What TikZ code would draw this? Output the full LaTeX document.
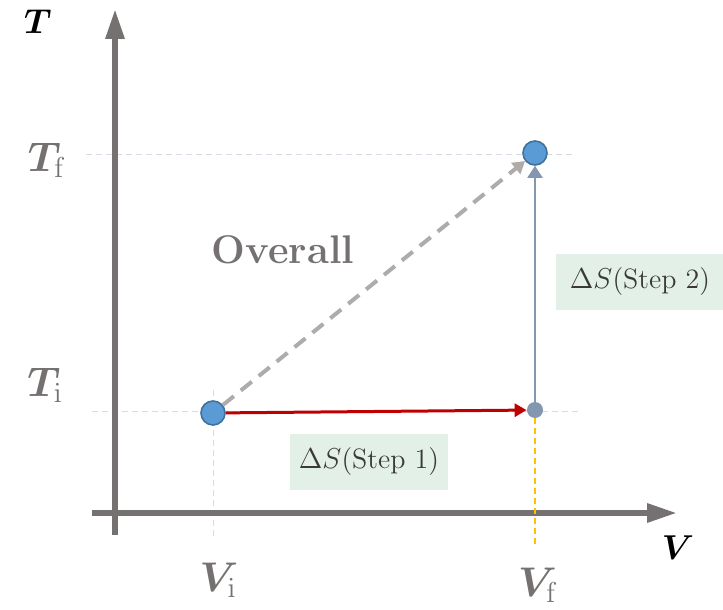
\documentclass[tikz,border=0pt]{standalone}
\usepackage{bm}
\usetikzlibrary{arrows.meta}
\definecolor{axisGray}{HTML}{767171}
\definecolor{pointBlue}{HTML}{5B9BD5}
\definecolor{pointEdge}{HTML}{41719C}
\definecolor{stepBlue}{HTML}{8497B0}
\definecolor{stepRed}{HTML}{C00000}
\definecolor{pathGray}{HTML}{AFABAB}
\definecolor{guideGray}{HTML}{D6DCE5}
\definecolor{guideGold}{HTML}{FFC000}
\definecolor{labelGreen}{HTML}{E2F0E8}
\definecolor{labelText}{HTML}{3B3838}
\tikzset{
    axisline/.style={line width=3pt, draw=axisGray, -{Triangle[length=15pt, width=9pt]}},
    guide/.style={draw=guideGray, line width=0.5pt, dash pattern=on 3pt off 2pt},
    guidegold/.style={draw=guideGold, line width=0.8pt, dash pattern=on 3pt off 2pt},
    state/.style={circle, draw=pointEdge, fill=pointBlue, line width=0.8pt, minimum size=12pt, inner sep=0pt},
    corner/.style={circle, fill=stepBlue, minimum size=8pt, inner sep=0pt},
    steponearrow/.style={-{Triangle[length=6pt, width=6.5pt]}, line width=1.5pt, draw=stepRed},
    steptwoarrow/.style={-{Triangle[length=6pt, width=7.5pt]}, line width=1pt, draw=stepBlue},
    overallarrow/.style={-{Triangle[length=6pt, width=7pt]}, line width=2pt, draw=pathGray, dash pattern=on 7pt off 4.5pt},
    axname/.style={font=\fontsize{18}{20}\selectfont, text=black},
    ticklabel/.style={font=\fontsize{21}{24}\selectfont, text=axisGray},
    overalltext/.style={font=\fontsize{20}{24}\selectfont\bfseries, text=axisGray},
    steplabel/.style={fill=labelGreen, text=labelText, font=\fontsize{14}{16}\selectfont, minimum height=28pt, inner xsep=4.5pt},
}
\begin{document}
\begin{tikzpicture}[x=0.5pt, y=-0.5pt]
    \useasboundingbox (0,0) rectangle (723,610);
    % guide lines
    \coordinate (gfl) at (86,155);
    \coordinate (gfr) at (573,155);
    \coordinate (gil) at (92,411);
    \coordinate (gir) at (580,411);
    \coordinate (gvit) at (213,390);
    \coordinate (gvib) at (213,540);
    \coordinate (gvfb) at (535,547);
    \draw[guide] (gfl) -- (gfr);
    \draw[guide] (gil) -- (gir);
    \draw[guide] (gvit) -- (gvib);

    % axes
    \coordinate (ybot) at (115,535);
    \coordinate (ytop) at (115,9);
    \coordinate (xleft) at (92,513);
    \coordinate (xright) at (677,513);
    \draw[axisline] (ybot) -- (ytop);
    \draw[axisline] (xleft) -- (xright);

    \node[state] (init) at (213,413) {};
    \node[state] (final) at (535,153) {};
    \node[corner] (mid) at (535,410) {};
    \draw[guidegold] (mid) -- (gvfb);

    \draw[overallarrow] (init) -- (final);
    \draw[steponearrow] (init) -- (mid);
    \draw[steptwoarrow] (mid) -- (final);

    \node[axname] (tname) at (38,22) {$\bm{T}$};
    \node[axname] (vname) at (678,548) {$\bm{V}$};
    \node[ticklabel] (tf) at (47,160) {$\bm{T}_{\mathrm{f}}$};
    \node[ticklabel] (ti) at (45,385) {$\bm{T}_{\mathrm{i}}$};
    \node[ticklabel] (vi) at (218,580) {$\bm{V}_{\mathrm{i}}$};
    \node[ticklabel] (vf) at (538,585) {$\bm{V}_{\mathrm{f}}$};
    \node[overalltext] (overall) at (283,250) {Overall};
    \node[steplabel] (stepone) at (369,462) {$\Delta S$(Step 1)};
    \node[steplabel, inner xsep=7pt] (steptwo) at (640,282) {$\Delta S$(Step 2)};
\end{tikzpicture}
\end{document}
